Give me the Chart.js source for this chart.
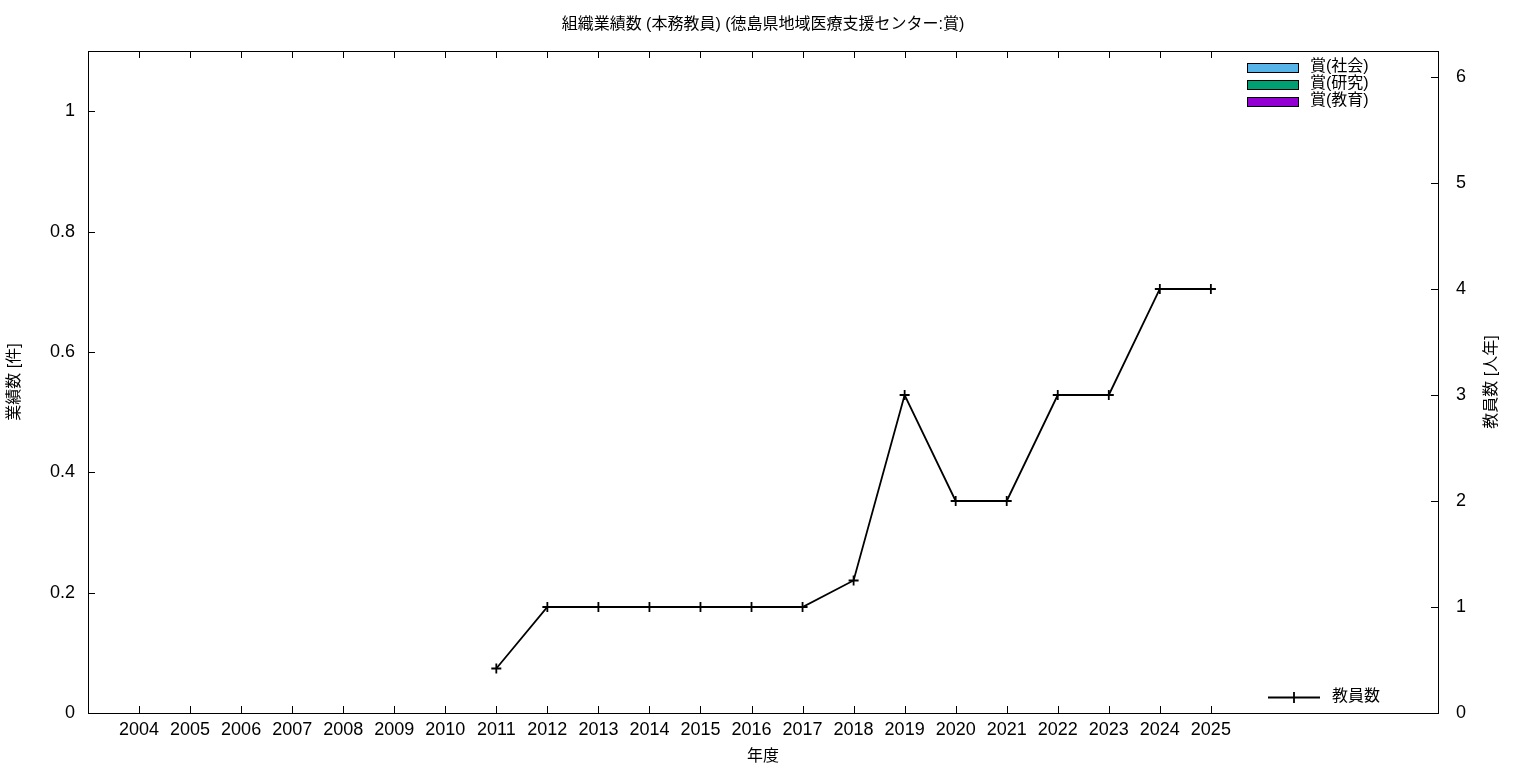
<!DOCTYPE html>
<html>
<head>
<meta charset="utf-8">
<script src="https://cdn.jsdelivr.net/npm/chart.js@4/dist/chart.umd.min.js"></script>
<style>
  html, body { margin: 0; padding: 0; background: #fff; }
  #wrap { width: 1536px; height: 768px; }
</style>
</head>
<body>
<div id="wrap"><canvas id="chart" width="1536" height="768"></canvas></div>
<script>
// data
const years = [2004, 2005, 2006, 2007, 2008, 2009, 2010, 2011, 2012, 2013, 2014,
               2015, 2016, 2017, 2018, 2019, 2020, 2021, 2022, 2023, 2024, 2025];
const staffCount = [null, null, null, null, null, null, null, 0.42, 1, 1, 1,
                    1, 1, 1, 1.25, 3, 2, 2, 3, 3, 4, 4];
const awardSocial   = [0, 0, 0, 0, 0, 0, 0, 0, 0, 0, 0, 0, 0, 0, 0, 0, 0, 0, 0, 0, 0, 0];
const awardResearch = [0, 0, 0, 0, 0, 0, 0, 0, 0, 0, 0, 0, 0, 0, 0, 0, 0, 0, 0, 0, 0, 0];
const awardEdu      = [0, 0, 0, 0, 0, 0, 0, 0, 0, 0, 0, 0, 0, 0, 0, 0, 0, 0, 0, 0, 0, 0];
const leftTicks = [0, 0.2, 0.4, 0.6, 0.8, 1];
const rightTicks = [0, 1, 2, 3, 4, 5, 6];

const titleText = '組織業績数 (本務教員) (徳島県地域医療支援センター:賞)';
const xTitle = '年度';
const leftTitle = '業績数 [件]';
const rightTitle = '教員数 [人年]';
const barLabels = ['賞(社会)', '賞(研究)', '賞(教育)'];
const barColors = ['#56b4e9', '#009e73', '#9400d3'];
const lineLabel = '教員数';

const FONT = "'Liberation Sans', 'Noto Sans CJK JP', sans-serif";
const TICK_LEN = 7;

// inward ticks, full frame, title, right axis label and the two legends
const gnuplotLook = {
    id: 'gnuplotLook',
    afterDraw(chart) {
        const ctx = chart.ctx;
        const a = chart.chartArea;
        const sx = chart.scales.x, sy = chart.scales.y, sy1 = chart.scales.y1;
        ctx.save();
        ctx.strokeStyle = '#000';
        ctx.lineWidth = 1;
        ctx.beginPath();
        years.forEach(v => {
            const px = Math.round(sx.getPixelForValue(v)) + 0.5;
            ctx.moveTo(px, a.bottom); ctx.lineTo(px, a.bottom - TICK_LEN);
            ctx.moveTo(px, a.top); ctx.lineTo(px, a.top + TICK_LEN);
        });
        leftTicks.forEach(v => {
            const py = Math.round(sy.getPixelForValue(v)) + 0.5;
            ctx.moveTo(a.left, py); ctx.lineTo(a.left + TICK_LEN, py);
        });
        rightTicks.forEach(v => {
            const py = Math.round(sy1.getPixelForValue(v)) + 0.5;
            ctx.moveTo(a.right, py); ctx.lineTo(a.right - TICK_LEN, py);
        });
        ctx.stroke();
        ctx.strokeRect(Math.round(a.left) + 0.5, Math.round(a.top) + 0.5,
                       Math.round(a.right - a.left), Math.round(a.bottom - a.top));

        // title
        ctx.fillStyle = '#000';
        ctx.font = '16px ' + FONT;
        ctx.textAlign = 'center';
        ctx.textBaseline = 'middle';
        ctx.fillText(titleText, (a.left + a.right) / 2, 25);

        // right axis label, read bottom to top like gnuplot
        ctx.save();
        ctx.translate(1492, (a.top + a.bottom) / 2);
        ctx.rotate(-Math.PI / 2);
        ctx.fillText(rightTitle, 0, 0);
        ctx.restore();

        // bar legend, top right
        ctx.textAlign = 'left';
        barLabels.forEach((lab, i) => {
            const y = 67 + i * 17;
            ctx.fillStyle = barColors[i];
            ctx.fillRect(1247, y - 4, 51, 9);
            ctx.strokeRect(1247.5, y - 3.5, 51, 9);
            ctx.fillStyle = '#000';
            ctx.fillText(lab, 1310, y);
        });

        // line legend, bottom right
        ctx.lineWidth = 1.8;
        ctx.beginPath();
        ctx.moveTo(1268, 697.5); ctx.lineTo(1320, 697.5);
        ctx.moveTo(1294, 692); ctx.lineTo(1294, 703);
        ctx.stroke();
        ctx.fillText(lineLabel, 1332, 697);
        ctx.restore();
    }
};

const barSets = [awardSocial, awardResearch, awardEdu].map((arr, i) => ({
    type: 'bar',
    label: barLabels[i],
    data: years.map((y, j) => ({ x: y, y: arr[j] })),
    backgroundColor: barColors[i],
    borderWidth: 0,
    inflateAmount: 0,
    yAxisID: 'y',
    barThickness: 12
}));

new Chart(document.getElementById('chart'), {
    data: {
        datasets: [
            ...barSets,
            {
                type: 'line',
                label: lineLabel,
                data: years.map((y, j) => ({ x: y, y: staffCount[j] })),
                yAxisID: 'y1',
                borderColor: '#000',
                backgroundColor: '#000',
                borderWidth: 1.8,
                pointStyle: 'cross',
                pointRadius: 5,
                pointBorderWidth: 1.8,
                tension: 0,
                spanGaps: false
            }
        ]
    },
    options: {
        responsive: false,
        animation: false,
        layout: { padding: { top: 51, right: 0, left: 0, bottom: 0 } },
        plugins: { legend: { display: false }, tooltip: { enabled: false }, title: { display: false } },
        scales: {
            x: {
                type: 'linear',
                position: 'bottom',
                offset: false,
                min: 2003,
                max: 2029.45,
                afterBuildTicks: s => { s.ticks = years.map(v => ({ value: v })); },
                afterFit: s => { s.height = 55; },
                ticks: { font: { family: FONT, size: 18 }, color: '#000', padding: 6,
                         maxRotation: 0, autoSkip: false, callback: v => String(v) },
                grid: { display: false, drawTicks: false, offset: false },
                border: { display: false },
                title: { display: true, text: xTitle, color: '#000',
                         font: { family: FONT, size: 16 }, padding: { top: 0, bottom: 2 } }
            },
            y: {
                position: 'left',
                min: 0,
                max: 1.1,
                afterBuildTicks: s => { s.ticks = leftTicks.map(v => ({ value: v })); },
                afterFit: s => { s.width = 88; },
                ticks: { font: { family: FONT, size: 18 }, color: '#000', padding: 13,
                         callback: v => String(Math.round(v * 10) / 10) },
                grid: { display: false, drawTicks: false },
                border: { display: false },
                title: { display: true, text: leftTitle, color: '#000',
                         font: { family: FONT, size: 16 }, padding: { top: 5, bottom: 0 } }
            },
            y1: {
                position: 'right',
                min: 0,
                max: 6.245,
                afterBuildTicks: s => { s.ticks = rightTicks.map(v => ({ value: v })); },
                afterFit: s => { s.width = 98; },
                ticks: { font: { family: FONT, size: 18 }, color: '#000', padding: 18 },
                grid: { display: false, drawTicks: false },
                border: { display: false }
            }
        }
    },
    plugins: [gnuplotLook]
});
</script>
</body>
</html>
